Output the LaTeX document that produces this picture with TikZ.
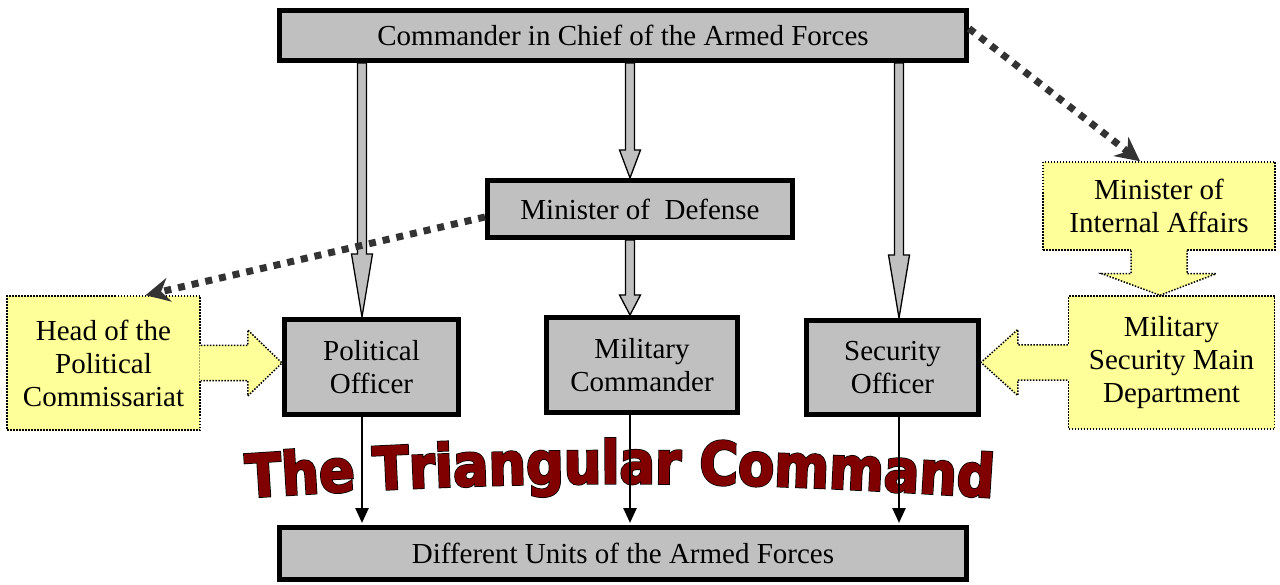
\documentclass[tikz,border=0pt]{standalone}
\usepackage{fontspec}
\setmainfont{Liberation Serif}
\newfontfamily\titlered{DejaVu Sans}[FakeStretch=0.89, BoldFeatures={FakeBold=2}]
\newfontfamily\titleblack{DejaVu Sans}[FakeStretch=0.89, BoldFeatures={FakeBold=4.5}]
\usetikzlibrary{arrows.meta,decorations.text,backgrounds,calc}
\definecolor{boxgray}{HTML}{C0C0C0}
\definecolor{yel}{HTML}{FFFF99}
\definecolor{dotgray}{HTML}{333333}
\definecolor{maroonred}{HTML}{800000}
\newcommand{\ttlr}{\titlered\bfseries\fontsize{59}{64}\selectfont}
\newcommand{\ttlb}{\titleblack\bfseries\fontsize{59}{64}\selectfont}
\newcommand{\blockarrow}[3]{\draw[garrow] let \p1=#1, \p2=#2 in
  (\x1-4.5,\y1) -- (\x1-4.5,\y2+#3) -- (\x1-10.5,\y2+#3) -- (\x1,\y2) --
  (\x1+10.5,\y2+#3) -- (\x1+4.5,\y2+#3) -- (\x1+4.5,\y1) -- cycle;}
\begin{document}
\begin{tikzpicture}[x=1pt,y=1pt,
  gbox/.style={draw=black, line width=5pt, fill=boxgray, inner sep=0pt, align=center,
    font=\fontsize{29}{33}\selectfont},
  ybox/.style={draw=black, line width=1.5pt, dash pattern=on 1.5pt off 1.5pt, fill=yel,
    inner sep=0pt, align=center, font=\fontsize{29}{33}\selectfont},
  ydot/.style={draw=black, line width=1.5pt, dash pattern=on 1.5pt off 1.5pt},
  garrow/.style={fill=boxgray, draw=black, line width=1.3pt, line join=miter},
  tarrow/.style={draw=black, line width=2.5pt, shorten >=2pt, -{Triangle[length=15pt,width=13pt]}},
  conn/.style={draw=dotgray, line width=7pt, dash pattern=on 7pt off 7pt,
    -{Stealth[length=24pt,width=24pt,inset=8pt]}}]
\useasboundingbox (0,0) rectangle (1280,-585);
\begin{scope}[on background layer]
  \fill[white] (0,0) rectangle (1280,-585);
\end{scope}

% main boxes
\node[gbox, minimum width=687pt, minimum height=50pt] (top) at (623,-35.5) {Commander in Chief of the Armed Forces};
\node[gbox, minimum width=687pt, minimum height=52pt] (bot) at (623,-553.5) {Different Units of the Armed Forces};
\node[gbox, minimum width=305pt, minimum height=57pt] (mod) at (640,-209) {Minister of\ \ Defense};
\node[gbox, minimum width=174pt, minimum height=95pt] (po) at (371.5,-367) {Political\\Officer};
\node[gbox, minimum width=191pt, minimum height=95pt] (mc) at (642,-365) {Military\\Commander};
\node[gbox, minimum width=172pt, minimum height=94pt] (so) at (892.5,-367.5) {Security\\Officer};

\coordinate (xa) at (362,0);
\coordinate (xb) at (630,0);
\coordinate (xc) at (899,0);

\begin{scope}[on background layer]
  \blockarrow{(top.south -| xa)}{(po.north -| xa)}{63}
  \blockarrow{(top.south -| xb)}{(mod.north -| xb)}{28}
  \blockarrow{(mod.south -| xb)}{(mc.north -| xb)}{20}
  \blockarrow{(top.south -| xc)}{(so.north -| xc)}{63}

  \node[ybox, minimum width=193pt, minimum height=134pt] (hpc) at (103.5,-363) {Head of the\\Political\\Commissariat};
  \node[ybox, minimum width=232pt, minimum height=88pt] (mia) at (1159,-206) {Minister of\\Internal Affairs};
  \node[ybox, minimum width=206pt, minimum height=133pt] (msmd) at (1171.5,-362.5) {Military\\Security Main\\Department};

  % yellow arrow: head of commissariat -> political officer
  \fill[yel] let \p1=(hpc.east), \p2=(po.west) in
    (\x1-1.5,\y1+17.5) -- (\x1+47,\y1+17.5) -- (\x1+47,\y1+33) -- (\x2,\y1) --
    (\x1+47,\y1-33) -- (\x1+47,\y1-17.5) -- (\x1-1.5,\y1-17.5) -- cycle;
  \draw[ydot] let \p1=(hpc.east), \p2=(po.west) in
    (\x1,\y1+17.5) -- (\x1+47,\y1+17.5) -- (\x1+47,\y1+33) -- (\x2,\y1) --
    (\x1+47,\y1-33) -- (\x1+47,\y1-17.5) -- (\x1,\y1-17.5);

  % yellow arrow: military security -> security officer
  \fill[yel] let \p1=(msmd.west), \p2=(so.east) in
    (\x1+1.5,\y1+17.5) -- (\x1-50,\y1+17.5) -- (\x1-50,\y1+33) -- (\x2,\y1) --
    (\x1-50,\y1-33) -- (\x1-50,\y1-17.5) -- (\x1+1.5,\y1-17.5) -- cycle;
  \draw[ydot] let \p1=(msmd.west), \p2=(so.east) in
    (\x1,\y1+17.5) -- (\x1-50,\y1+17.5) -- (\x1-50,\y1+33) -- (\x2,\y1) --
    (\x1-50,\y1-33) -- (\x1-50,\y1-17.5) -- (\x1,\y1-17.5);

  % yellow arrow: internal affairs -> military security
  \fill[yel] let \p1=(mia.south), \p2=(msmd.north) in
    (\x1-28,\y1+1.5) -- (\x1-28,\y1-23) -- (\x1-57,\y1-23) -- (\x1+1,\y2) --
    (\x1+57,\y1-23) -- (\x1+28,\y1-23) -- (\x1+28,\y1+1.5) -- cycle;
  \draw[ydot] let \p1=(mia.south), \p2=(msmd.north) in
    (\x1-28,\y1) -- (\x1-28,\y1-23) -- (\x1-57,\y1-23) -- (\x1+1,\y2) --
    (\x1+57,\y1-23) -- (\x1+28,\y1-23) -- (\x1+28,\y1);
\end{scope}

% title: black emboldened copy under a maroon copy
\path[decorate, decoration={text along path,
  text={|\ttlb|The Triangular Command}, text align=center, text color=black}]
  (210,-500) to[bend left=4] (1030,-500);
\path[decorate, decoration={text along path,
  text={|\ttlr|The Triangular Command}, text align=center, text color=maroonred}]
  (210,-500) to[bend left=4] (1030,-500);

% thin arrows to units
\draw[tarrow] (po.south -| xa) -- (bot.north -| xa);
\draw[tarrow] (mc.south -| xb) -- (bot.north -| xb);
\draw[tarrow] (so.south -| xc) -- (bot.north -| xc);

% dotted connectors
\draw[conn] ([yshift=-8pt]mod.west) -- ([xshift=42pt]hpc.north);
\draw[conn] ([yshift=7pt]top.east) -- ([xshift=-19pt]mia.north);
\end{tikzpicture}
\end{document}
